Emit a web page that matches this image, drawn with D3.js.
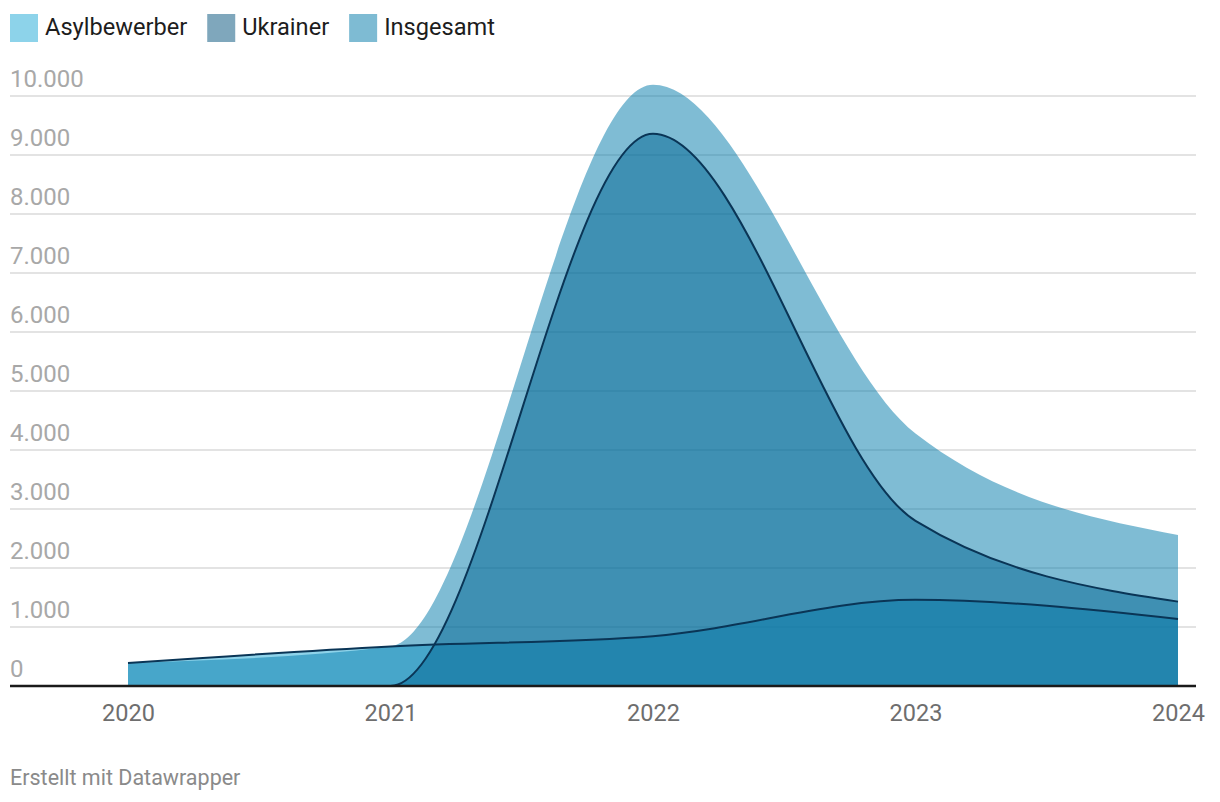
<!DOCTYPE html>
<html>
<head>
<meta charset="utf-8">
<script src="https://cdn.jsdelivr.net/npm/d3@7"></script>
<style>
  html, body { margin: 0; padding: 0; background: #fff; }
  svg { display: block; font-family: Roboto, "Noto Sans", sans-serif; }
</style>
</head>
<body>
<svg id="chart" width="1220" height="802"></svg>
<script>
// ---- data ----
const years = [2020, 2021, 2022, 2023, 2024];
const asylbewerber = [390, 670, 845, 1460, 1135];
const ukrainer = [0, 0, 9360, 2800, 1430];
const insgesamt = [390, 670, 10190, 4280, 2560];
const yTicks = [0, 1000, 2000, 3000, 4000, 5000, 6000, 7000, 8000, 9000, 10000];
const seriesNames = ["Asylbewerber", "Ukrainer", "Insgesamt"];
const seriesBase = ["#1da7d5", "#004f7b", "#0079a9"];
const seriesLegend = ["#8dd3ea", "#7fa7bc", "#7ebbd3"];

const locale = d3.formatLocale({decimal: ",", thousands: ".", grouping: [3], currency: ["", " €"]});
const fmt = locale.format(",d");

const svg = d3.select("#chart");
const x = d3.scaleLinear().domain([2020, 2024]).range([128, 1178]);
const y = d3.scaleLinear().domain([0, 10000]).range([686, 96]);
const gridX0 = 10, gridX1 = 1196;

// gridlines + y labels
const gy = svg.append("g");
gy.selectAll("line").data(yTicks.filter(d => d > 0)).join("line")
  .attr("x1", gridX0).attr("x2", gridX1)
  .attr("y1", d => y(d)).attr("y2", d => y(d))
  .attr("stroke", "#e3e3e3").attr("stroke-width", 2);
gy.selectAll("text").data(yTicks).join("text")
  .attr("x", gridX0).attr("y", d => y(d) - 9)
  .attr("fill", "#a8a8a8").attr("font-size", 24)
  .text(d => fmt(d));

// areas
const mk = vals => years.map((yr, i) => ({x: yr, v: vals[i]}));
const area = d3.area().curve(d3.curveMonotoneX)
  .x(d => x(d.x)).y0(y(0)).y1(d => y(d.v));
const line = d3.line().curve(d3.curveMonotoneX)
  .x(d => x(d.x)).y(d => y(d.v));

const seriesData = [mk(asylbewerber), mk(ukrainer), mk(insgesamt)];
svg.append("g").selectAll("path").data(seriesData).join("path")
  .attr("d", d => area(d))
  .attr("fill", (d, i) => seriesBase[i])
  .attr("fill-opacity", 0.5);

// lines for Asylbewerber and Ukrainer
svg.append("g").selectAll("path").data([seriesData[0], seriesData[1]]).join("path")
  .attr("d", d => line(d))
  .attr("fill", "none")
  .attr("stroke", "#0a3556")
  .attr("stroke-width", 2);

// baseline
svg.append("line")
  .attr("x1", gridX0).attr("x2", gridX1)
  .attr("y1", y(0)).attr("y2", y(0))
  .attr("stroke", "#1a1a1a").attr("stroke-width", 2.5);

// x axis labels
const xAxis = d3.axisBottom(x).tickValues(years).tickFormat(d3.format("d")).tickSize(0).tickPadding(0);
const gx = svg.append("g").attr("transform", `translate(0,${y(0)})`).call(xAxis);
gx.select(".domain").remove();
gx.selectAll("text")
  .attr("y", 35).attr("dy", null)
  .attr("fill", "#6e6e6e").attr("font-size", 23.5)
  .attr("font-family", "Roboto, 'Noto Sans', sans-serif");

// legend
const leg = svg.append("g");
let lx = 10;
seriesNames.forEach((name, i) => {
  leg.append("rect").attr("x", lx).attr("y", 14).attr("width", 28).attr("height", 28)
    .attr("fill", seriesLegend[i]);
  const t = leg.append("text").attr("x", lx + 35).attr("y", 35)
    .attr("font-size", 23.6).attr("fill", "#1d1d1d").text(name);
  lx = lx + 35 + t.node().getComputedTextLength() + 20;
});

// footer
svg.append("text").attr("x", 10).attr("y", 785)
  .attr("font-size", 21.5).attr("fill", "#8a8a8a")
  .text("Erstellt mit Datawrapper");
</script>
</body>
</html>
